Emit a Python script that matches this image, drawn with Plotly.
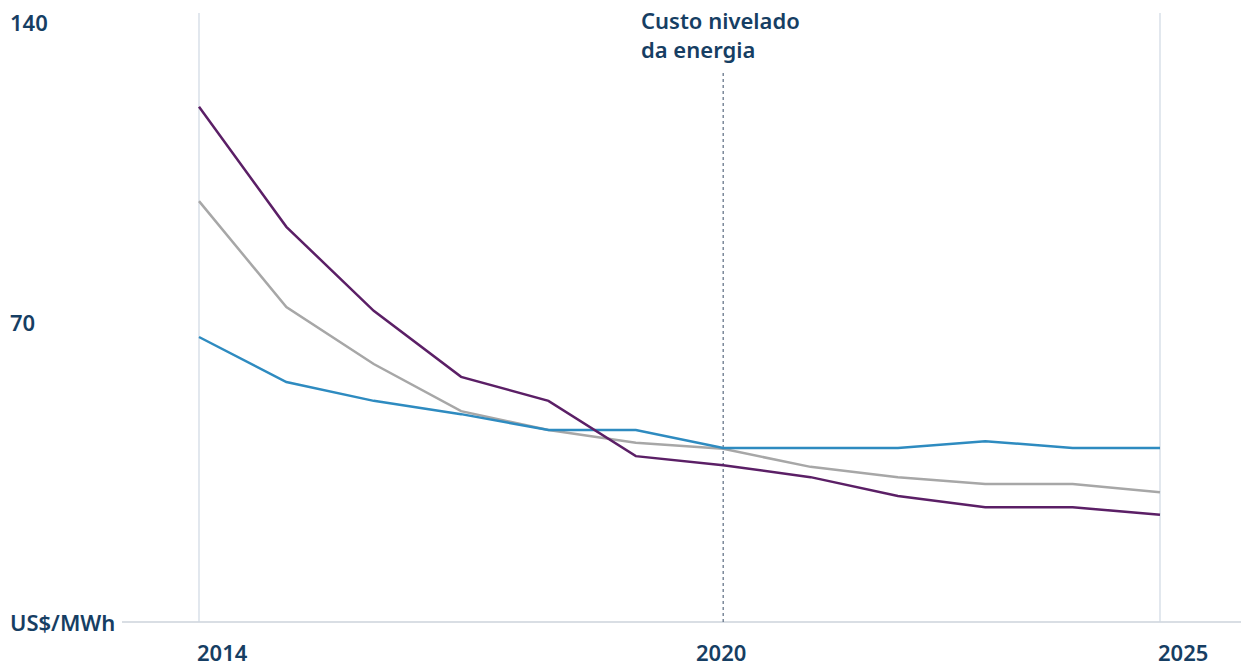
import plotly.graph_objects as go

years = list(range(2014, 2026))
purple_vals = [120.2, 92.2, 72.6, 57.2, 51.6, 38.7, 36.6, 33.8, 29.4, 26.8, 26.8, 25.0]
gray_vals = [98.2, 73.5, 60.2, 49.2, 44.8, 41.8, 40.4, 36.2, 33.8, 32.2, 32.2, 30.3]
blue_vals = [66.5, 56.0, 51.6, 48.5, 44.8, 44.8, 40.6, 40.6, 40.6, 42.2, 40.6, 40.6]
y_ticks = [140, 70]
y_unit = "US$/MWh"
x_labels = [(2014, "left"), (2020, "center"), (2025, "left")]
annot_text = "Custo nivelado<br>da energia"

W, H = 1241, 668
NAVY = "#163e63"
FONT = "Noto Sans"
FS = 22

def f():
    return dict(family=FONT, size=FS, color=NAVY, weight=600)

fig = go.Figure()
for vals, col in [(gray_vals, "#a7a7a7"), (blue_vals, "#2e8bc0"), (purple_vals, "#5b1f66")]:
    fig.add_trace(go.Scatter(x=years, y=vals, mode="lines",
                             line=dict(color=col, width=2.5), hoverinfo="skip"))

ppy = (1160 - 199) / 11
x0 = 2014 - 199 / ppy
x1 = 2025 + (W - 1160) / ppy
ppu = 600 / 140
ytop = 140 + 22 / ppu
ybot = -(H - 622) / ppu

shapes = []
for yr in (2014, 2025):
    shapes.append(dict(type="line", x0=yr, x1=yr, y0=0, y1=140 + 9 / ppu,
                       line=dict(color="#cfd8e3", width=1.2), layer="below"))
shapes.append(dict(type="line", x0=2020, x1=2020, y0=0, y1=(622 - 70) / ppu,
                   line=dict(color="#5a6b80", width=1.2, dash="dot"), layer="below"))
shapes.append(dict(type="line", xref="paper", x0=122 / W, x1=1, y0=0, y1=0,
                   line=dict(color="#d9dee4", width=2), layer="below"))

annotations = []
for v in y_ticks:
    annotations.append(dict(xref="paper", x=8 / W, y=v, text=str(v), showarrow=False,
                            xanchor="left", yanchor="middle", font=f()))
annotations.append(dict(xref="paper", x=8 / W, y=0, text=y_unit, showarrow=False,
                        xanchor="left", yanchor="middle", font=f()))
for yr, anc in x_labels:
    annotations.append(dict(x=yr, yref="paper", y=0, text=str(yr), showarrow=False,
                            xanchor=anc, yanchor="bottom", borderpad=0,
                            xshift=-3 if anc == "left" else -2,
                            font=f()))
annotations.append(dict(x=2020, xshift=-84, yref="paper", y=1 - 3 / H, text=annot_text,
                        showarrow=False, xanchor="left", yanchor="top", align="left",
                        font=f()))

fig.update_layout(
    width=W, height=H, margin=dict(l=0, r=0, t=0, b=0),
    paper_bgcolor="white", plot_bgcolor="white", showlegend=False,
    xaxis=dict(range=[x0, x1], visible=False, fixedrange=True),
    yaxis=dict(range=[ybot, ytop], visible=False, fixedrange=True),
    shapes=shapes, annotations=annotations,
)
fig.write_html("out.html")
